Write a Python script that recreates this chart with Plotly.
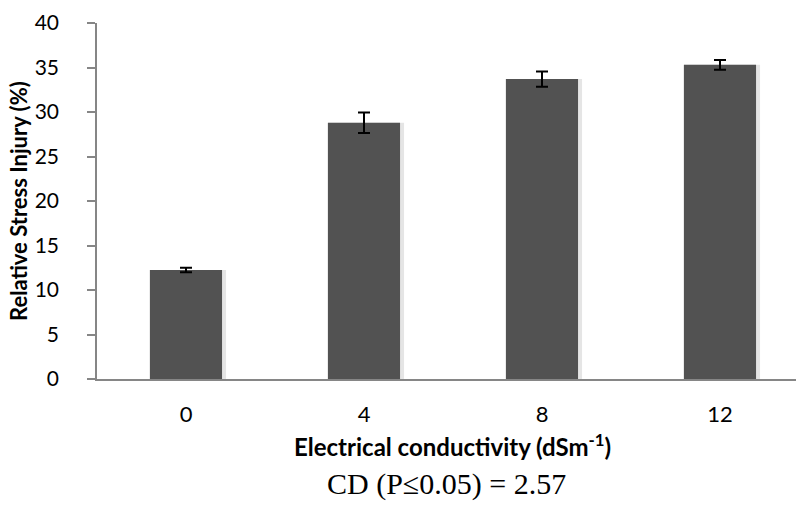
import plotly.graph_objects as go

# Electrical conductivity levels (dS m^-1) and relative stress injury (%)
ec_levels = ["0", "4", "8", "12"]
rsi_mean = [12.25, 28.8, 33.7, 35.3]
rsi_err = [0.25, 1.15, 0.85, 0.55]
y_ticks = [0, 5, 10, 15, 20, 25, 30, 35, 40]

W, H = 796, 523
left, top, bottom = 97, 23, 144
cat_px = 178.0
x_hi = -0.5 + (W - left) / cat_px
SANS = "Lato, Open Sans, sans-serif"

fig = go.Figure()

# soft shadow behind each bar
fig.add_trace(go.Bar(
    x=list(range(len(ec_levels))), y=rsi_mean, width=0.43,
    marker=dict(color="rgba(0,0,0,0.10)", line=dict(width=0)),
    offset=-0.205, hoverinfo="skip", showlegend=False,
))

fig.add_trace(go.Bar(
    x=list(range(len(ec_levels))), y=rsi_mean, width=0.405,
    marker=dict(color="#525252", line=dict(width=0)),
    error_y=dict(type="data", array=rsi_err, visible=True,
                 color="black", thickness=2, width=6),
    showlegend=False,
))

fig.update_layout(
    width=W, height=H,
    margin=dict(l=left, r=0, t=top, b=bottom),
    paper_bgcolor="white", plot_bgcolor="white",
    barmode="overlay",
    font=dict(family=SANS, color="black"),
)

fig.update_xaxes(
    range=[-0.5, x_hi],
    tickmode="array", tickvals=list(range(len(ec_levels))), ticktext=ec_levels,
    tickfont=dict(size=22, family=SANS), ticks="", ticklabelstandoff=15,
    showgrid=False, zeroline=False,
    showline=True, linecolor="#868686", linewidth=1.5,
)
fig.update_yaxes(
    range=[0, 40], tickvals=y_ticks,
    tickfont=dict(size=21, family=SANS), ticks="outside", ticklen=8,
    tickcolor="#868686", tickwidth=1.5, ticklabelstandoff=24,
    showgrid=False, zeroline=False,
    showline=True, linecolor="#868686", linewidth=1.5,
)

fig.add_annotation(
    text="<b>Relative Stress Injury (%)</b>", textangle=-90,
    xref="paper", yref="paper", x=-(left - 18) / (W - left), y=0.5,
    xanchor="center", yanchor="middle", showarrow=False,
    font=dict(size=22, family=SANS),
)
fig.add_annotation(
    text="<b>Electrical conductivity (dSm<sup>-1</sup>)</b>",
    xref="paper", yref="paper",
    x=(452 - left) / (W - left), y=-(445 - (H - bottom)) / (H - top - bottom),
    xanchor="center", yanchor="middle", showarrow=False,
    font=dict(size=24, family=SANS),
)
fig.add_annotation(
    text="CD (P≤0.05) = 2.57",
    xref="paper", yref="paper",
    x=(446 - left) / (W - left), y=-(484 - (H - bottom)) / (H - top - bottom),
    xanchor="center", yanchor="middle", showarrow=False,
    font=dict(size=30, family="Liberation Serif, Times New Roman, serif"),
)

fig.write_html("out.html")
